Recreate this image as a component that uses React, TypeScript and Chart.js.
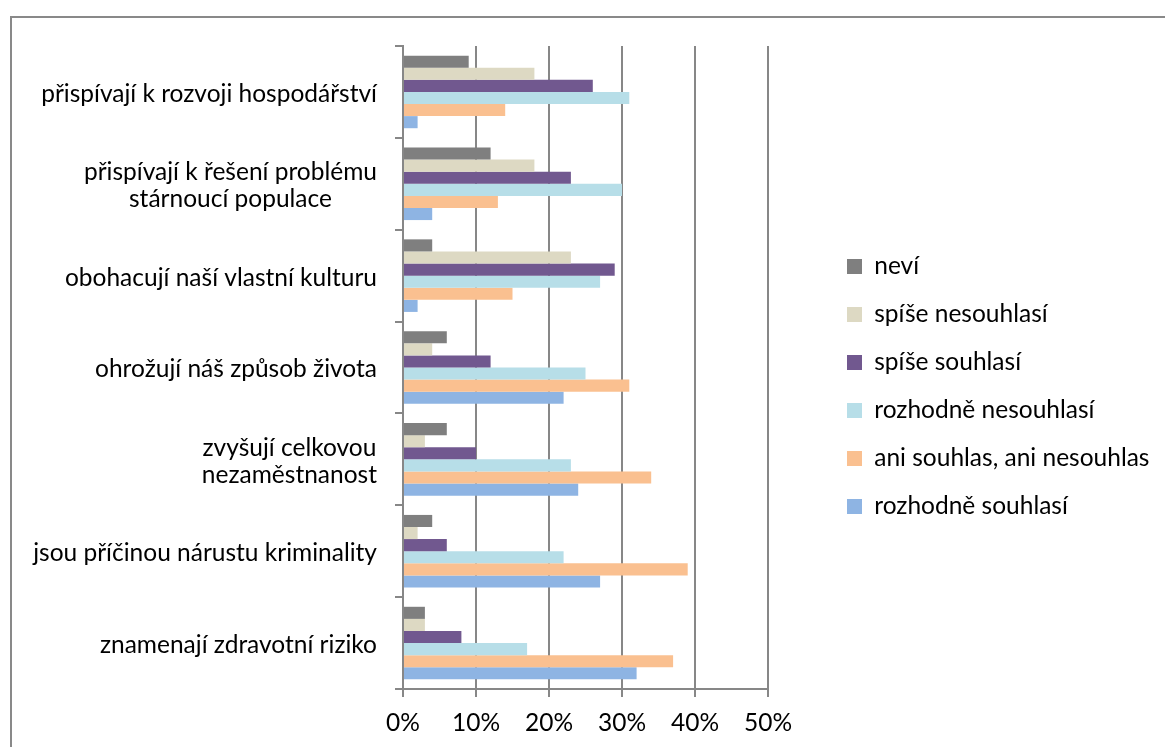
import React, { useEffect, useRef } from 'react';
import { Chart, registerables } from 'chart.js';

Chart.register(...registerables);

const FONT = 'Lato, Carlito, Calibri, sans-serif';
const FONT_SIZE = 24.5;

const categories: string[][] = [
  ['přispívají k rozvoji hospodářství'],
  ['přispívají k řešení problému', 'stárnoucí populace'],
  ['obohacují naší vlastní kulturu'],
  ['ohrožují náš způsob života'],
  ['zvyšují celkovou', 'nezaměstnanost'],
  ['jsou příčinou nárustu kriminality'],
  ['znamenají zdravotní riziko'],
];

const seriesNames = [
  'neví',
  'spíše nesouhlasí',
  'spíše souhlasí',
  'rozhodně nesouhlasí',
  'ani souhlas, ani nesouhlas',
  'rozhodně souhlasí',
];

const nevi = [9, 12, 4, 6, 6, 4, 3];
const spiseNesouhlasi = [18, 18, 23, 4, 3, 2, 3];
const spiseSouhlasi = [26, 23, 29, 12, 10, 6, 8];
const rozhodneNesouhlasi = [31, 30, 27, 25, 23, 22, 17];
const aniSouhlasAniNesouhlas = [14, 13, 15, 31, 34, 39, 37];
const rozhodneSouhlasi = [2, 4, 2, 22, 24, 27, 32];

const seriesValues = [nevi, spiseNesouhlasi, spiseSouhlasi, rozhodneNesouhlasi, aniSouhlasAniNesouhlas, rozhodneSouhlasi];
const seriesColors = ['#7f7f7f', '#ddd9c3', '#71588f', '#b7dee8', '#fac090', '#8eb4e3'];

const xTickMin = 0;
const xTickMax = 50;
const xTickStep = 10;

export default function App() {
  const ref = useRef<HTMLCanvasElement>(null);

  useEffect(() => {
    const canvas = ref.current;
    if (!canvas) return;

    const yLabelsPlugin = {
      id: 'yLabels',
      afterDraw(chart: any) {
        const ctx = chart.ctx;
        const ys = chart.scales.y;
        ctx.save();
        ctx.font = `${FONT_SIZE}px ${FONT}`;
        ctx.fillStyle = '#000';
        ctx.textAlign = 'center';
        ctx.textBaseline = 'middle';
        const right = ys.right - 26;
        categories.forEach((lines, i) => {
          const y = ys.getPixelForValue(i) + 2;
          const w = Math.max(...lines.map((l) => ctx.measureText(l).width));
          const cx = right - w / 2;
          lines.forEach((l, j) => {
            ctx.fillText(l, cx, y + (j - (lines.length - 1) / 2) * 26.5);
          });
        });
        ctx.restore();
      },
    };

    const legendPlacePlugin = {
      id: 'legendPlace',
      afterLayout(chart: any) {
        const lg = chart.legend;
        if (!lg) return;
        lg.left = 811.5;
        lg.right = chart.width;
        lg.width = lg.right - lg.left;
        lg.top = 28;
        lg.bottom = 709;
        lg.height = lg.bottom - lg.top;
      },
    };

    const chart = new Chart(canvas, {
      type: 'bar',
      data: {
        labels: categories,
        datasets: seriesNames.map((name, k) => ({
          label: name,
          data: seriesValues[k],
          backgroundColor: seriesColors[k],
          borderWidth: 0,
        })),
      },
      options: {
        indexAxis: 'y',
        animation: false,
        responsive: false,
        maintainAspectRatio: false,
        layout: { padding: { top: 28, bottom: 0, left: 0, right: 247 } },
        datasets: { bar: { categoryPercentage: 0.79, barPercentage: 1 } },
        scales: {
          x: {
            min: xTickMin,
            max: xTickMax,
            ticks: {
              stepSize: xTickStep,
              callback: (v: any) => `${v}%`,
              font: { family: FONT, size: FONT_SIZE },
              color: '#000',
              padding: 11,
            },
            grid: { color: '#878787', lineWidth: 2, tickLength: 8, drawTicks: true },
            border: { color: '#878787', width: 2 },
            afterFit: (s: any) => {
              s.height = 58;
            },
          },
          y: {
            grid: { offset: true, drawOnChartArea: false, tickLength: 8, color: '#878787', lineWidth: 2 },
            border: { color: '#878787', width: 2 },
            ticks: { display: false },
            afterFit: (s: any) => {
              s.width = 391;
            },
          },
        },
        plugins: {
          legend: {
            position: 'right',
            maxWidth: 150,
            labels: {
              boxWidth: 15,
              boxHeight: 15,
              padding: 23.5,
              color: '#000',
              font: { family: FONT, size: FONT_SIZE },
            },
          },
          tooltip: { enabled: false },
        },
      } as any,
      plugins: [legendPlacePlugin, yLabelsPlugin],
    });

    let alive = true;
    if ((document as any).fonts && (document as any).fonts.load) {
      (document as any).fonts.load(`${FONT_SIZE}px Lato`).then(() => {
        if (alive) chart.update();
      });
    }

    return () => {
      alive = false;
      chart.destroy();
    };
  }, []);

  return (
    <div style={{ position: 'fixed', inset: 0, overflow: 'hidden', background: '#fff' }}>
      <div
        style={{
          position: 'absolute',
          left: 10,
          top: 16,
          width: 1300,
          height: 900,
          border: '2px solid #898989',
        }}
      >
        <canvas ref={ref} width={1153} height={729} style={{ display: 'block', width: 1153, height: 729 }} />
      </div>
    </div>
  );
}
